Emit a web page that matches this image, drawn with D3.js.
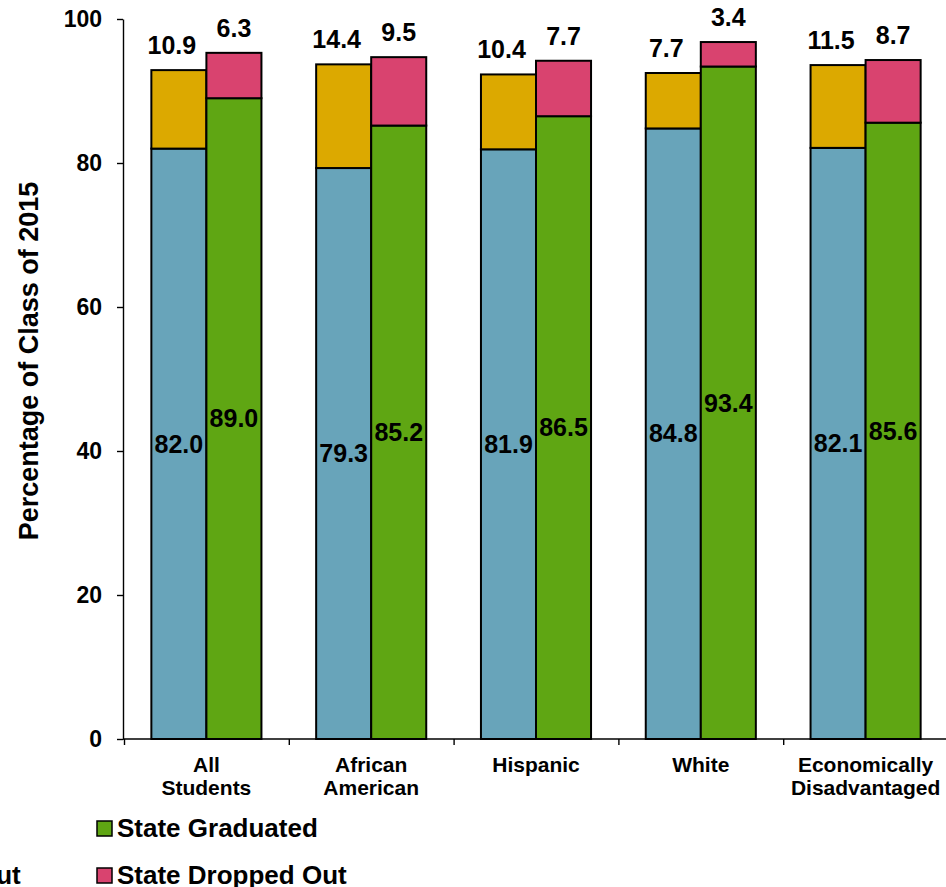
<!DOCTYPE html>
<html><head><meta charset="utf-8">
<script src="https://cdn.jsdelivr.net/npm/d3@7"></script>
<style>body{margin:0;background:#fff}svg{display:block;overflow:hidden}text{font-family:"Liberation Sans",Arial,sans-serif;font-weight:bold;fill:#000}</style>
</head><body>
<script>
const categories = ["All Students","African American","Hispanic","White","Economically Disadvantaged"];
const categoryLines = [["All","Students"],["African","American"],["Hispanic"],["White"],["Economically","Disadvantaged"]];
const districtGraduated = [82.0,79.3,81.9,84.8,82.1];
const districtDroppedOut = [10.9,14.4,10.4,7.7,11.5];
const stateGraduated = [89.0,85.2,86.5,93.4,85.6];
const stateDroppedOut = [6.3,9.5,7.7,3.4,8.7];
const yTicks = [0,20,40,60,80,100];
const groups = ["District","State"];
const legendLabels = [["District Graduated","District Dropped Out"],["State Graduated","State Dropped Out"]];

const W = 946, H = 887;
const colors = {
  District: ["#68A4BA", "#DCA900"],
  State: ["#5FA613", "#D9436F"]
};

const svg = d3.select("body").append("svg").attr("width", W).attr("height", H);

const y = d3.scaleLinear().domain([0,100]).range([739,19]);
const x = d3.scaleBand().domain(categories).range([124,948]).paddingInner(0.332).paddingOuter(0.166);
const xs = d3.scaleBand().domain(groups).range([0, x.bandwidth()]);
const xb = d3.scaleLinear().domain([0, categories.length]).range([124,948]);

const data = categories.map((c,i) => ({
  cat: c,
  bars: [
    {g:"District", grad: districtGraduated[i], drop: districtDroppedOut[i]},
    {g:"State", grad: stateGraduated[i], drop: stateDroppedOut[i]}
  ]
}));

const gBars = svg.append("g");
data.forEach(d => {
  d.bars.forEach(b => {
    const bx = x(d.cat) + xs(b.g);
    gBars.append("rect").attr("x", bx).attr("width", xs.bandwidth())
      .attr("y", y(b.grad)).attr("height", y(0) - y(b.grad))
      .attr("fill", colors[b.g][0]).attr("stroke", "#000").attr("stroke-width", 2);
    gBars.append("rect").attr("x", bx).attr("width", xs.bandwidth())
      .attr("y", y(b.grad + b.drop)).attr("height", y(b.grad) - y(b.grad + b.drop))
      .attr("fill", colors[b.g][1]).attr("stroke", "#000").attr("stroke-width", 2);
  });
});

const yAxis = svg.append("g").attr("transform", "translate(123,0)")
  .call(d3.axisLeft(y).tickValues(yTicks).tickSize(6).tickSizeOuter(0).tickPadding(15));
yAxis.selectAll("text").style("font-size", "23px").attr("fill", "#000");
yAxis.selectAll("line,path").attr("stroke", "#000").attr("stroke-width", 1.4);

const xAxis = svg.append("g").attr("transform", "translate(0,739)")
  .call(d3.axisBottom(xb).ticks(categories.length).tickFormat("").tickSize(6).tickSizeOuter(0));
xAxis.selectAll("line,path").attr("stroke", "#000").attr("stroke-width", 1.4);
xAxis.select("path").attr("d", "M123,0H948");

categories.forEach((c,i) => {
  const t = svg.append("text").attr("text-anchor", "middle").style("font-size", "21px")
    .attr("x", x(c) + x.bandwidth()/2).attr("y", 772);
  categoryLines[i].forEach((ln,j) => {
    t.append("tspan").attr("x", x(c) + x.bandwidth()/2).attr("dy", j === 0 ? 0 : 23).text(ln);
  });
});

const gLab = svg.append("g");
data.forEach(d => {
  d.bars.forEach(b => {
    const cx = x(d.cat) + xs(b.g) + xs.bandwidth()/2;
    gLab.append("text").attr("text-anchor", "middle").style("font-size", "25px")
      .attr("x", cx).attr("y", y(b.grad/2)).attr("dy", "0.35em").text(b.grad.toFixed(1));
    gLab.append("text").attr("text-anchor", "middle").style("font-size", "25px")
      .attr("x", cx + (b.g === "District" ? -7 : 0)).attr("y", y(b.grad + b.drop) - 16).text(b.drop.toFixed(1));
  });
});

svg.append("text").attr("transform", "translate(38,361) rotate(-90)")
  .attr("text-anchor", "middle").style("font-size", "27px").text("Percentage of Class of 2015");

const legX = [-255, 97];
const legY = [828, 875];
groups.forEach((g,gi) => {
  [0,1].forEach(k => {
    const lg = svg.append("g").attr("transform", `translate(${legX[gi]},${legY[k]})`);
    lg.append("rect").attr("x", 0).attr("y", -7).attr("width", 15).attr("height", 15)
      .attr("fill", colors[g][k]).attr("stroke", "#000").attr("stroke-width", 1.5);
    lg.append("text").attr("x", 20).attr("y", 9).style("font-size", "26px").text(legendLabels[gi][k]);
  });
});
</script>
</body></html>
